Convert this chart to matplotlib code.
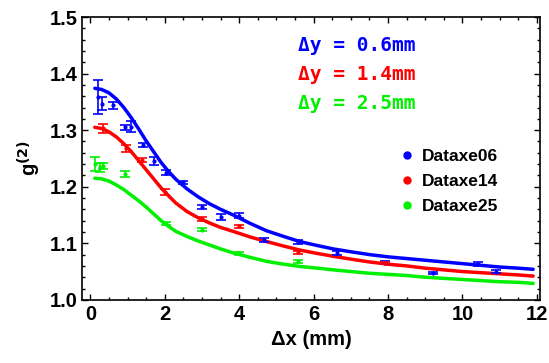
import numpy as np
import matplotlib
matplotlib.use('Agg')
import matplotlib.pyplot as plt
from matplotlib.ticker import MultipleLocator

# measured points (x in mm, g2, error)
x06 = [0.20, 0.32, 0.61, 0.93, 1.09, 1.42, 1.72, 2.02, 2.50, 3.00, 3.50, 4.00, 4.66, 5.59, 6.63, 7.92, 9.20, 10.41, 10.90]
y06 = [1.359, 1.347, 1.344, 1.305, 1.306, 1.274, 1.246, 1.225, 1.208, 1.164, 1.147, 1.149, 1.106, 1.102, 1.083, 1.066, 1.048, 1.063, 1.050]
e06 = [0.030, 0.012, 0.006, 0.005, 0.010, 0.004, 0.007, 0.005, 0.003, 0.004, 0.005, 0.005, 0.003, 0.003, 0.003, 0.002, 0.002, 0.004, 0.002]

x14 = [0.34, 0.95, 1.39, 2.00, 3.00, 4.00, 5.59, 7.92]
y14 = [1.303, 1.268, 1.247, 1.191, 1.143, 1.130, 1.084, 1.065]
e14 = [0.008, 0.006, 0.003, 0.005, 0.003, 0.003, 0.003, 0.002]

x25 = [0.12, 0.26, 0.34, 0.93, 2.02, 3.00, 4.00, 5.59]
y25 = [1.240, 1.234, 1.237, 1.223, 1.135, 1.124, 1.082, 1.068]
e25 = [0.012, 0.008, 0.005, 0.005, 0.003, 0.003, 0.002, 0.002]

# fitted curves
xf = [0.12, 0.3, 0.5, 0.7, 0.9, 1.1, 1.3, 1.5, 1.7, 1.9, 2.1, 2.3, 2.6, 2.9, 3.2, 3.5, 3.84,
      4.3, 4.74, 5.2, 5.63, 6.1, 6.53, 7.0, 7.5, 8.0, 8.5, 9.0, 9.5, 10.0, 10.5, 11.0, 11.5, 11.9]
f06 = [1.374, 1.372, 1.366, 1.355, 1.340, 1.322, 1.302, 1.281, 1.262, 1.243, 1.227, 1.213, 1.196,
       1.182, 1.170, 1.160, 1.150, 1.135, 1.122, 1.112, 1.103, 1.096, 1.090, 1.085, 1.080, 1.076,
       1.073, 1.070, 1.067, 1.064, 1.061, 1.058, 1.056, 1.054]
f14 = [1.305, 1.303, 1.297, 1.288, 1.276, 1.262, 1.246, 1.230, 1.214, 1.198, 1.184, 1.171, 1.156,
       1.145, 1.136, 1.128, 1.121, 1.111, 1.103, 1.095, 1.088, 1.082, 1.077, 1.072, 1.067, 1.063,
       1.060, 1.056, 1.053, 1.050, 1.048, 1.046, 1.044, 1.042]
f25 = [1.215, 1.214, 1.210, 1.203, 1.195, 1.185, 1.175, 1.164, 1.152, 1.140, 1.130, 1.121, 1.112,
       1.104, 1.097, 1.090, 1.083, 1.075, 1.068, 1.063, 1.059, 1.056, 1.053, 1.050, 1.047, 1.045,
       1.043, 1.040, 1.038, 1.036, 1.034, 1.032, 1.031, 1.029]

colors = ['#0000ff', '#ff0000', '#00f000']
labels = ['Dataxe06', 'Dataxe14', 'Dataxe25']
dy_text = ['\u0394y = 0.6mm', '\u0394y = 1.4mm', '\u0394y = 2.5mm']

plt.rcParams['font.family'] = ['Liberation Sans', 'DejaVu Sans']
plt.rcParams['font.weight'] = 'bold'

fig = plt.figure(figsize=(5.49, 3.63), dpi=100)
ax = fig.add_axes([0.149, 0.174, 0.835, 0.779])

for xs, ys, es, fy, c, lab in zip([x06, x14, x25], [y06, y14, y25], [e06, e14, e25],
                                  [f06, f14, f25], colors, labels):
    ax.plot(xf, fy, color=c, lw=2.5, solid_capstyle='round', zorder=2)
    ax.errorbar(xs, ys, yerr=es, fmt='o', ms=2, color=c, ecolor=c, elinewidth=1.2,
                capsize=3.5, capthick=1.2, zorder=3)
    ax.plot([], [], 'o', ms=5, color=c, label=lab)

ax.set_xlim(-0.23, 12.09)
ax.set_ylim(1.0, 1.5)
ax.xaxis.set_major_locator(MultipleLocator(2))
ax.xaxis.set_minor_locator(MultipleLocator(0.5))
ax.yaxis.set_major_locator(MultipleLocator(0.1))
ax.yaxis.set_minor_locator(MultipleLocator(0.02))
ax.tick_params(which='both', direction='in', top=True, right=True, width=1)
ax.tick_params(which='major', length=4, labelsize=14.5)
ax.tick_params(axis='x', which='major', pad=4)
ax.tick_params(axis='y', which='major', pad=3)
ax.tick_params(which='minor', length=2)
for lab in ax.get_xticklabels() + ax.get_yticklabels():
    lab.set_fontweight('bold')
for sp in ax.spines.values():
    sp.set_linewidth(1.2)

ax.set_xlabel('\u0394x (mm)', fontsize=14.5, fontweight='bold', labelpad=4)
ax.set_ylabel('g$^{\\mathbf{(2)}}$', fontsize=14.5, fontweight='bold', labelpad=5)

for i, (t, c) in enumerate(zip(dy_text, colors)):
    ax.text(0.472, 0.901 - i * 0.103, t, transform=ax.transAxes, color=c,
            fontsize=14, fontweight='bold', family='DejaVu Sans Mono', va='center')

leg = ax.legend(loc='upper left', bbox_to_anchor=(0.653, 0.59), frameon=False,
                handletextpad=0.25, labelspacing=0.58, handlelength=1.2,
                prop={'weight': 'bold', 'size': 12.5})

fig.savefig('out.png', dpi=100)
